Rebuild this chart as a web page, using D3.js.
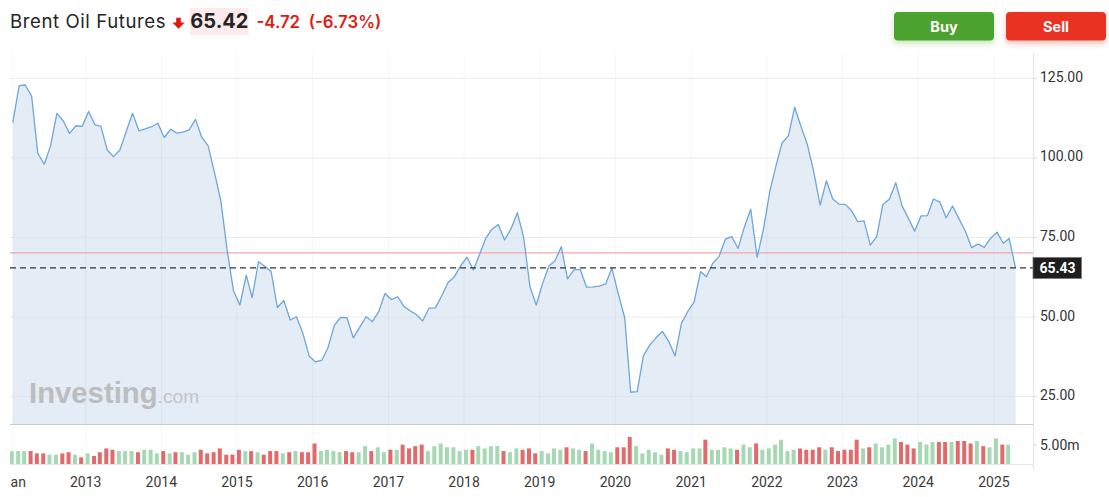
<!DOCTYPE html>
<html><head><meta charset="utf-8">
<script src="https://cdn.jsdelivr.net/npm/d3@7"></script>
<style>
html,body{margin:0;padding:0;background:#fff;}
svg{display:block;}
</style></head><body>
<svg id="chart" width="1109" height="497"></svg>
<script>
// ---------- DATA ----------
const title = "Brent Oil Futures";
const lastPrice = "65.42";
const changeText = "-4.72";
const changePctText = "(-6.73%)";
const prevClose = 70.14;
const markerPrice = 65.43;
const startMonth = "2012-01";

// monthly closes, Jan 2012 .. Apr 2025
const closes = [
  111.1,122.7,122.9,119.4,101.4,98.0,103.7,114.0,111.6,107.7,110.1,109.9,
  114.6,110.4,110.0,102.5,100.4,102.5,108.2,114.0,108.5,109.1,109.8,110.9,
  106.4,109.0,107.8,108.1,108.8,112.1,106.5,103.8,95.2,86.6,70.8,58.3,
  53.8,63.2,56.1,67.4,66.0,64.3,53.0,55.2,49.1,50.1,44.9,37.8,
  35.9,36.5,40.4,47.4,49.9,49.8,43.5,46.8,50.1,48.6,51.7,57.4,
  55.5,56.4,53.5,52.0,50.8,48.8,52.8,52.9,56.7,60.8,62.7,66.1,
  68.8,64.8,69.4,74.7,77.6,79.1,74.2,77.7,82.8,75.1,59.5,53.8,
  60.6,66.1,67.6,72.1,62.0,64.8,65.0,59.4,59.5,59.7,60.4,65.4,
  57.3,49.8,26.4,26.6,37.8,41.2,43.5,45.5,42.3,37.8,48.1,51.7,
  54.8,64.3,62.7,66.9,69.0,74.5,75.3,71.6,78.4,83.9,68.8,77.4,
  89.4,97.8,104.6,107.0,115.9,109.8,104.3,95.7,85.2,92.8,87.1,85.5,
  85.4,83.3,80.0,80.2,72.6,75.3,85.4,87.0,92.2,85.0,81.0,77.0,
  81.8,81.9,87.1,86.1,81.2,84.9,81.0,77.1,71.8,72.9,71.9,74.7,
  76.7,73.2,74.7,65.43
];

// monthly volume (millions), last month not drawn
const volumes = [
  3.4,3.4,3.4,3.4,2.8,2.8,2.45,2.45,2.8,3.1,2.45,1.75,
  2.8,2.1,3.1,4.1,3.75,3.4,3.4,3.4,3.1,3.75,3.75,2.8,
  3.4,2.8,3.1,3.1,2.45,3.1,3.75,2.8,3.1,4.1,2.45,2.45,
  3.75,3.4,3.4,3.1,2.45,3.4,3.4,2.8,3.1,3.4,3.1,3.1,
  5.4,3.4,3.75,3.4,3.1,3.4,3.1,3.1,4.7,3.4,4.4,3.1,
  3.75,3.75,5.1,4.1,4.7,5.1,3.4,4.7,5.4,4.4,4.4,3.4,
  3.75,3.75,4.7,4.1,4.7,4.7,3.4,3.1,4.1,3.75,4.1,2.8,
  3.4,2.8,4.1,3.75,4.4,4.1,3.75,3.4,5.4,3.75,3.4,3.1,
  4.4,4.4,7.1,4.7,2.8,3.75,3.1,2.45,4.1,3.75,3.4,3.1,
  4.1,4.1,6.4,3.75,3.75,4.4,4.1,3.75,5.1,4.4,5.4,3.75,
  4.1,5.1,6.4,3.4,3.75,4.1,3.75,3.75,4.4,3.75,4.4,3.4,
  3.75,3.75,6.4,4.1,4.4,5.4,4.4,5.1,6.75,5.8,5.1,4.1,
  5.8,5.1,5.8,5.8,5.8,5.8,6.05,6.05,5.4,6.05,4.7,4.4,
  6.75,5.1,5.1,null
];

const priceTicks = [25, 50, 75, 100, 125];
const volumeTicks = [5];
const xTickLabels = ["Jan","2013","2014","2015","2016","2017","2018","2019","2020","2021","2022","2023","2024","2025"];

// ---------- BUILD ----------
const parseM = d3.utcParse("%Y-%m");
const start = parseM(startMonth);
const data = closes.map((c, i) => {
  const m = d3.utcMonth.offset(start, i);
  return {
    date: d3.utcDay.offset(m, 14),
    close: c,
    vol: volumes[i],
    up: i === 0 ? true : c >= closes[i - 1]
  };
});
const xTicks = xTickLabels.map((l, i) => ({
  label: l,
  date: i === 0 ? data[0].date : new Date(Date.UTC(+l, 0, 1))
}));

const L = 10, R = 1033, TOP = 53, PB = 424, VB = 464;
const x = d3.scaleTime()
  .domain([new Date(Date.UTC(2013,0,1)), new Date(Date.UTC(2025,0,1))])
  .range([85.7, 994]);
const y = d3.scaleLinear().domain([25, 125]).range([396.7, 78.3]);
const yv = d3.scaleLinear().domain([0, 5]).range([VB, 445]);

const svg = d3.select("#chart");
const defs = svg.append("defs");
defs.append("clipPath").attr("id","plotClip").append("rect")
  .attr("x", L).attr("y", TOP).attr("width", R - L).attr("height", PB - TOP);
defs.append("clipPath").attr("id","allClip").append("rect")
  .attr("x", L).attr("y", TOP).attr("width", R - L).attr("height", 497 - TOP);
defs.append("clipPath").attr("id","lblClip").append("rect")
  .attr("x", L + 0.4).attr("y", TOP).attr("width", 1109).attr("height", 497 - TOP);
const fG = defs.append("filter").attr("id","shG").attr("x","-20%").attr("y","-40%").attr("width","140%").attr("height","190%");
fG.append("feDropShadow").attr("dx",0).attr("dy",3).attr("stdDeviation",3).attr("flood-color","#4ca22f").attr("flood-opacity",0.3);
const fR = defs.append("filter").attr("id","shR").attr("x","-20%").attr("y","-40%").attr("width","140%").attr("height","190%");
fR.append("feDropShadow").attr("dx",0).attr("dy",3).attr("stdDeviation",3).attr("flood-color","#ea3323").attr("flood-opacity",0.3);

// ---------- HEADER ----------
const hdr = svg.append("g").attr("font-family","Inter, 'Noto Sans', sans-serif");
hdr.append("text").attr("x",10).attr("y",28.3).attr("font-size",18.6).attr("fill","#232526")
  .attr("textLength",155.5).attr("lengthAdjust","spacing").text(title);
hdr.append("path").attr("d","M176.2,17.8 H180.8 V22.6 H184.6 L178.5,28.8 L172.4,22.6 H176.2 Z").attr("fill","#e3170a");
hdr.append("rect").attr("x",190).attr("y",8).attr("width",58.5).attr("height",27).attr("fill","#fcebea");
hdr.append("text").attr("x",219.4).attr("y",28.4).attr("text-anchor","middle").attr("font-size",20).attr("font-weight",700).attr("fill","#232526").text(lastPrice);
hdr.append("text").attr("x",256.5).attr("y",28.2).attr("font-size",16.8).attr("font-weight",600).attr("fill","#de1a12").text(changeText);
hdr.append("text").attr("x",308.8).attr("y",28.2).attr("font-size",16.8).attr("font-weight",600).attr("fill","#de1a12").text(changePctText);

// buttons
const btns = [{t:"Buy", x:894, c:"#4ca22f", f:"url(#shG)"},{t:"Sell", x:1006, c:"#ea3323", f:"url(#shR)"}];
btns.forEach(b => {
  svg.append("rect").attr("x",b.x).attr("y",12).attr("width",100).attr("height",28.5).attr("rx",4)
    .attr("fill",b.c).attr("filter",b.f);
  svg.append("text").attr("x",b.x+50).attr("y",31.8).attr("text-anchor","middle")
    .attr("font-family","Inter, Roboto, sans-serif").attr("font-size",14.5).attr("font-weight",700)
    .attr("fill","#fff").text(b.t);
});

// ---------- GRID ----------
const grid = svg.append("g");
grid.selectAll("line.h").data(priceTicks).join("line")
  .attr("x1",L).attr("x2",R).attr("y1",d=>y(d)).attr("y2",d=>y(d))
  .attr("stroke","#f1f2f4").attr("stroke-width",1);

// ---------- PRICE PANE ----------
const plot = svg.append("g").attr("clip-path","url(#plotClip)");
const area = d3.area().x(d=>x(d.date)).y0(PB).y1(d=>y(d.close));
plot.append("path").datum(data).attr("d",area).attr("fill","#e4ecf5");

// vertical gridlines (over fill, faint)
svg.append("g").selectAll("line").data(xTicks).join("line")
  .attr("x1",d=>x(d.date)).attr("x2",d=>x(d.date)).attr("y1",TOP).attr("y2",470)
  .attr("stroke","rgba(40,60,90,0.045)").attr("stroke-width",1);
svg.append("g").selectAll("line").data(priceTicks).join("line")
  .attr("x1",L).attr("x2",R).attr("y1",d=>y(d)).attr("y2",d=>y(d))
  .attr("stroke","rgba(40,60,90,0.035)").attr("stroke-width",1);

// logo
const logo = svg.append("text").attr("x",29).attr("y",402.8).attr("font-family","'Liberation Sans', Arial, sans-serif");
logo.append("tspan").attr("font-size",29.3).attr("font-weight",700).attr("fill","#bcbdbf").text("Investing");
logo.append("tspan").attr("font-size",19.2).attr("fill","#c4c5c7").text(".com");

// previous close line
plot.append("line").attr("x1",L).attr("x2",R).attr("y1",y(prevClose)).attr("y2",y(prevClose))
  .attr("stroke","#f3a9a9").attr("stroke-width",1.3);
// current price dashed line
svg.append("line").attr("x1",L).attr("x2",R).attr("y1",y(markerPrice)).attr("y2",y(markerPrice))
  .attr("stroke","#333").attr("stroke-width",1.2).attr("stroke-dasharray","6,4");

const line = d3.line().x(d=>x(d.date)).y(d=>y(d.close));
plot.append("path").datum(data).attr("d",line).attr("fill","none")
  .attr("stroke","#6fa6d8").attr("stroke-width",1.3).attr("stroke-linejoin","round");

// pane separator
svg.append("line").attr("x1",L).attr("x2",R).attr("y1",PB+0.5).attr("y2",PB+0.5).attr("stroke","#c9cacc").attr("stroke-width",1.2);

// ---------- VOLUME ----------
const vg = svg.append("g").attr("clip-path","url(#allClip)");
vg.selectAll("rect").data(data.filter(d => d.vol != null)).join("rect")
  .attr("x",d=>x(d.date)-3).attr("width",4)
  .attr("y",d=>yv(d.vol)).attr("height",d=>VB - yv(d.vol))
  .attr("fill",d=>d.up ? "#a6d9b3" : "#e36a6a");
svg.append("line").attr("x1",L).attr("x2",R).attr("y1",VB+0.5).attr("y2",VB+0.5).attr("stroke","#e3e6ec").attr("stroke-width",1.2);

// ---------- AXES ----------
svg.append("line").attr("x1",R+0.5).attr("x2",R+0.5).attr("y1",TOP).attr("y2",470).attr("stroke","#e3e6ec").attr("stroke-width",1.2);
const axF = "Roboto, 'Noto Sans', sans-serif";
const ya = svg.append("g");
ya.selectAll("line").data(priceTicks).join("line")
  .attr("x1",R).attr("x2",R+4).attr("y1",d=>y(d)).attr("y2",d=>y(d)).attr("stroke","#d6d9de");
ya.selectAll("text").data(priceTicks).join("text")
  .attr("x",1040).attr("y",d=>y(d)+3.5).attr("font-family",axF).attr("font-size",14).attr("fill","#333")
  .text(d=>d3.format(".2f")(d));
const va = svg.append("g");
va.selectAll("line").data(volumeTicks).join("line")
  .attr("x1",R).attr("x2",R+4).attr("y1",d=>yv(d)).attr("y2",d=>yv(d)).attr("stroke","#d6d9de");
va.selectAll("text").data(volumeTicks).join("text")
  .attr("x",1040).attr("y",d=>yv(d)+5).attr("font-family",axF).attr("font-size",14).attr("fill","#333")
  .text(d=>d3.format(".2f")(d)+"m");

// price marker
const my = y(markerPrice);
svg.append("rect").attr("x",R).attr("y",my-10.5).attr("width",48.5).attr("height",21).attr("fill","#1e1e1e").attr("stroke","#777").attr("stroke-width",0.8);
svg.append("text").attr("x",R+24.5).attr("y",my+5).attr("text-anchor","middle").attr("font-family",axF)
  .attr("font-size",14).attr("font-weight",700).attr("fill","#fff").text(d3.format(".2f")(markerPrice));

// x axis labels
const xa = svg.append("g").attr("clip-path","url(#lblClip)");
xa.selectAll("text").data(xTicks).join("text")
  .attr("x",(d,i)=>x(d.date) + (i===0 ? 1.6 : 0)).attr("y",486.5).attr("text-anchor","middle")
  .attr("font-family",axF).attr("font-size",14).attr("fill","#3a3a3a").text(d=>d.label);
</script>
</body></html>
